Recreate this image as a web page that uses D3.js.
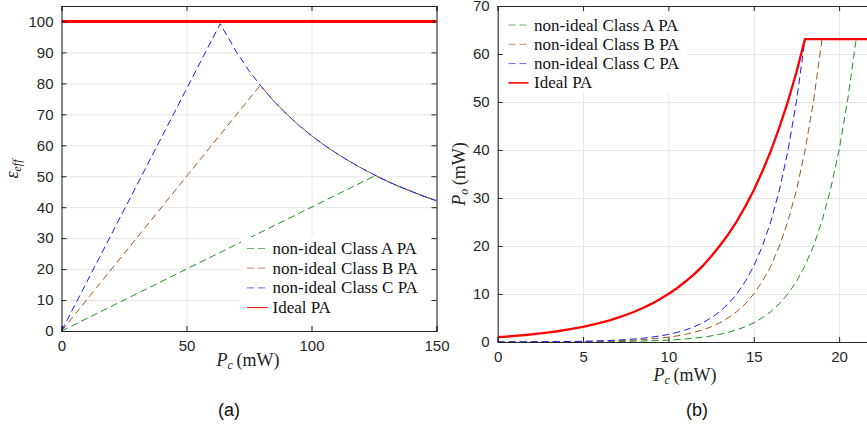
<!DOCTYPE html>
<html>
<head>
<meta charset="utf-8">
<script src="https://cdn.jsdelivr.net/npm/d3@7"></script>
<style>
  html, body { margin: 0; padding: 0; background: #fff; }
  svg { display: block; }
</style>
</head>
<body>
<svg id="chart" width="867" height="436"></svg>
<script>
// ---------------- DATA ----------------
// Panel (a): efficiency vs Pc
const seriesNames = ["non-ideal Class A PA", "non-ideal Class B PA", "non-ideal Class C PA", "Ideal PA"];
const leftXTicks = [0, 50, 100, 150];
const leftYTicks = [0, 10, 20, 30, 40, 50, 60, 70, 80, 90, 100];

const effA_Pc  = [0, 125.5, 130, 135, 140, 145, 150];
const effA_val = [0, 50.2, 48.5, 46.7, 45.1, 43.5, 42.1];

const effB_Pc  = [0, 79.5, 85, 90, 95, 100, 105, 110, 115, 120, 125, 130, 135, 140, 145, 150];
const effB_val = [0, 79.4, 74.2, 70.1, 66.4, 63.1, 60.1, 57.4, 54.9, 52.6, 50.5, 48.5, 46.7, 45.1, 43.5, 42.1];

const effC_Pc  = [0, 63.5, 65, 70, 75, 80, 85, 90, 95, 100, 105, 110, 115, 120, 125, 130, 135, 140, 145, 150];
const effC_val = [0, 99.3, 97.1, 90.1, 84.1, 78.9, 74.2, 70.1, 66.4, 63.1, 60.1, 57.4, 54.9, 52.6, 50.5, 48.5, 46.7, 45.1, 43.5, 42.1];

const effIdeal_Pc  = [0, 150];
const effIdeal_val = [100, 100];

// Panel (b): output power vs Pc
const rightXTicks = [0, 5, 10, 15, 20];
const rightYTicks = [0, 10, 20, 30, 40, 50, 60, 70];

const poPc = [0, 0.5, 1, 1.5, 2, 2.5, 3, 3.5, 4, 4.5, 5, 5.5, 6, 6.5, 7, 7.5, 8, 8.5, 9, 9.5,
              10, 10.5, 11, 11.5, 12, 12.5, 13, 13.5, 14, 14.5, 15, 15.5, 16, 16.5, 17, 17.5,
              18, 18.5, 19, 19.5, 20, 20.5, 21, 21.5, 22];
const poIdeal = [1.00, 1.12, 1.26, 1.41, 1.58, 1.78, 2.00, 2.24, 2.51, 2.82, 3.16, 3.55, 3.98, 4.47, 5.01, 5.62, 6.31, 7.08, 7.94, 8.91,
                 10.0, 11.2, 12.6, 14.1, 15.8, 17.8, 20.0, 22.4, 25.1, 28.2, 31.6, 35.5, 39.8, 44.7, 50.1, 56.2,
                 63.1, 63.1, 63.1, 63.1, 63.1, 63.1, 63.1, 63.1, 63.1];
const poC = [0.016, 0.020, 0.025, 0.032, 0.040, 0.050, 0.063, 0.079, 0.100, 0.126, 0.158, 0.199, 0.251, 0.316, 0.398, 0.501, 0.630, 0.793, 0.999, 1.26,
             1.58, 1.99, 2.51, 3.16, 3.98, 5.01, 6.30, 7.93, 9.99, 12.6, 15.8, 19.9, 25.1, 31.6, 39.8, 50.1,
             63.0, 63.1, 63.1, 63.1, 63.1, 63.1, 63.1, 63.1, 63.1];
const poB = [0.010, 0.013, 0.016, 0.020, 0.025, 0.032, 0.040, 0.050, 0.063, 0.079, 0.100, 0.126, 0.158, 0.200, 0.251, 0.316, 0.398, 0.501, 0.631, 0.794,
             1.00, 1.26, 1.58, 2.00, 2.51, 3.16, 3.98, 5.01, 6.31, 7.94, 10.0, 12.6, 15.8, 20.0, 25.1, 31.6,
             39.8, 50.1, 63.1, 63.1, 63.1, 63.1, 63.1, 63.1, 63.1];
const poA = [0.004, 0.005, 0.006, 0.008, 0.010, 0.013, 0.016, 0.020, 0.025, 0.032, 0.040, 0.050, 0.063, 0.080, 0.100, 0.126, 0.159, 0.200, 0.252, 0.318,
             0.40, 0.50, 0.63, 0.80, 1.00, 1.26, 1.59, 2.00, 2.52, 3.18, 4.00, 5.04, 6.34, 7.98, 10.0, 12.6,
             15.9, 20.0, 25.2, 31.8, 40.0, 50.4, 63.1, 63.1, 63.1];

// ---------------- STYLE ----------------
const colA = "#1f8f1f", colB = "#a8521f", colC = "#1a1aff", colIdeal = "#ff0000";
const axisCol = "#262626", gridCol = "#e6e6e6";
const tickFont = "'Liberation Sans', Arial, sans-serif";
const texFont = "'Liberation Serif', 'Times New Roman', serif";

const svg = d3.select("#chart");

function zip(xs, ys) { return xs.map((x, i) => [x, ys[i]]); }

function drawPanel(cfg) {
  const { id, x, y, xTicks, yTicks, series, legend, rightBorder } = cfg;
  const g = svg.append("g");
  const [x0, x1] = x.range();
  const [y0, y1] = y.range(); // y0 bottom, y1 top

  g.append("defs").append("clipPath").attr("id", "clip" + id)
    .append("rect").attr("x", x0).attr("y", y1).attr("width", x1 - x0).attr("height", y0 - y1);

  // grid
  g.append("g").selectAll("line.gx").data(xTicks.filter(t => t > x.domain()[0] && t < x.domain()[1]))
    .join("line").attr("x1", d => x(d) + 0.5).attr("x2", d => x(d) + 0.5)
    .attr("y1", y1).attr("y2", y0).attr("stroke", gridCol).attr("stroke-width", 1);
  g.append("g").selectAll("line.gy").data(yTicks.filter(t => t > y.domain()[0] && t < y.domain()[1]))
    .join("line").attr("y1", d => y(d) + 0.5).attr("y2", d => y(d) + 0.5)
    .attr("x1", x0).attr("x2", x1).attr("stroke", gridCol).attr("stroke-width", 1);

  // data lines
  const plot = g.append("g").attr("clip-path", `url(#clip${id})`);
  const line = d3.line().x(d => x(d[0])).y(d => y(d[1]));
  series.forEach(s => {
    plot.append("path").datum(s.data).attr("d", line)
      .attr("fill", "none").attr("stroke", s.color).attr("stroke-width", s.width)
      .attr("stroke-dasharray", s.dash || null).attr("stroke-linejoin", "round");
  });

  // legend
  const lg = g.append("g");
  lg.append("rect").attr("x", legend.x).attr("y", legend.y).attr("width", legend.w).attr("height", legend.h)
    .attr("fill", "#fff");
  legend.items.forEach((it, i) => {
    const cy = legend.firstY + i * legend.step;
    lg.append("line").attr("x1", legend.lineX1).attr("x2", legend.lineX2).attr("y1", cy).attr("y2", cy)
      .attr("stroke", it.color).attr("stroke-width", it.width).attr("stroke-dasharray", it.dash || null)
      .attr("stroke-opacity", it.dash ? 0.65 : 1);
    lg.append("text").attr("x", legend.textX).attr("y", cy + 5.5)
      .style("font-family", texFont).style("font-size", "17px").attr("fill", "#111").text(it.name);
  });

  // axes (MATLAB-like box with inward ticks)
  const xAxisB = d3.axisBottom(x).tickValues(xTicks).tickSize(-5).tickPadding(9).tickFormat(d3.format("d"));
  const yAxisL = d3.axisLeft(y).tickValues(yTicks).tickSize(-5).tickPadding(8).tickFormat(d3.format("d"));
  const xAxisT = d3.axisTop(x).tickValues(xTicks).tickSize(-5).tickFormat("");
  const gxb = g.append("g").attr("transform", `translate(0,${y0})`).call(xAxisB);
  const gyl = g.append("g").attr("transform", `translate(${x0},0)`).call(yAxisL);
  const gxt = g.append("g").attr("transform", `translate(0,${y1})`).call(xAxisT);
  const axes = [gxb, gyl, gxt];
  if (rightBorder) {
    const yAxisR = d3.axisRight(y).tickValues(yTicks).tickSize(-5).tickFormat("");
    axes.push(g.append("g").attr("transform", `translate(${x1},0)`).call(yAxisR));
  }
  axes.forEach(a => {
    a.select(".domain").attr("stroke", axisCol).attr("stroke-width", 1.1);
    a.selectAll(".tick line").attr("stroke", axisCol).attr("stroke-width", 1);
    a.selectAll("text").attr("font-family", tickFont).attr("font-size", 15).attr("fill", axisCol);
  });
  return g;
}

// ---------------- PANEL (a) ----------------
const xL = d3.scaleLinear().domain([0, 150]).range([61.5, 436.5]);
const yL = d3.scaleLinear().domain([0, 105]).range([331, 6]);

drawPanel({
  id: "L", x: xL, y: yL, xTicks: leftXTicks, yTicks: leftYTicks, rightBorder: true,
  series: [
    { data: zip(effIdeal_Pc, effIdeal_val), color: colIdeal, width: 3.2 },
    { data: zip(effA_Pc, effA_val), color: colA, width: 1, dash: "7,4" },
    { data: zip(effB_Pc, effB_val), color: colB, width: 1, dash: "7,4" },
    { data: zip(effC_Pc, effC_val), color: colC, width: 1, dash: "7,4" }
  ],
  legend: {
    x: 241, y: 237, w: 194, h: 82, firstY: 248.5, step: 19.7,
    lineX1: 247, lineX2: 268, textX: 272.5,
    items: [
      { name: seriesNames[0], color: colA, width: 1, dash: "7,4" },
      { name: seriesNames[1], color: colB, width: 1, dash: "7,4" },
      { name: seriesNames[2], color: colC, width: 1, dash: "7,4" },
      { name: seriesNames[3], color: colIdeal, width: 1 }
    ]
  }
});

// ---------------- PANEL (b) ----------------
const xR = d3.scaleLinear().domain([0, 22]).range([497.7, 497.7 + 22 * 17.07]);
const yR = d3.scaleLinear().domain([0, 70]).range([342, 6]);

drawPanel({
  id: "R", x: xR, y: yR, xTicks: rightXTicks, yTicks: rightYTicks, rightBorder: false,
  series: [
    { data: zip(poPc, poA), color: colA, width: 1, dash: "7,4" },
    { data: zip(poPc, poB), color: colB, width: 1, dash: "7,4" },
    { data: zip(poPc, poC), color: colC, width: 1, dash: "7,4" },
    { data: zip(poPc, poIdeal), color: colIdeal, width: 2.3 }
  ],
  legend: {
    x: 503, y: 13, w: 184, h: 80, firstY: 25, step: 19.3,
    lineX1: 508.5, lineX2: 528.5, textX: 534,
    items: [
      { name: seriesNames[0], color: colA, width: 1, dash: "7,4" },
      { name: seriesNames[1], color: colB, width: 1, dash: "7,4" },
      { name: seriesNames[2], color: colC, width: 1, dash: "7,4" },
      { name: seriesNames[3], color: colIdeal, width: 1.6 }
    ]
  }
});

// ---------------- AXIS LABELS ----------------
function pcLabel(cx, by) {
  const t = svg.append("text").attr("x", cx).attr("y", by).attr("text-anchor", "middle")
    .style("font-family", texFont).style("font-size", "18px").attr("fill", "#222");
  t.append("tspan").attr("font-style", "italic").text("P");
  t.append("tspan").attr("font-style", "italic").style("font-size", "12px").attr("dy", 3).text("c");
  t.append("tspan").attr("dy", -3).text("\u2009(mW)");
}
pcLabel(248, 366);
pcLabel(685, 381);

// ε_eff (rotated)
{
  const t = svg.append("text").attr("transform", "translate(18,169) rotate(-90)").attr("text-anchor", "middle")
    .style("font-family", texFont).style("font-size", "18px").attr("fill", "#222");
  t.append("tspan").attr("font-style", "italic").text("\u03b5");
  t.append("tspan").attr("font-style", "italic").style("font-size", "12px").attr("dy", 3).text("eff");
}
// P_o (mW) (rotated)
{
  const t = svg.append("text").attr("transform", "translate(465,174) rotate(-90)").attr("text-anchor", "middle")
    .style("font-family", texFont).style("font-size", "18px").attr("fill", "#222");
  t.append("tspan").attr("font-style", "italic").text("P");
  t.append("tspan").attr("font-style", "italic").style("font-size", "12px").attr("dy", 3).text("o");
  t.append("tspan").attr("dy", -3).text("\u2009(mW)");
}

// panel captions
svg.append("text").attr("x", 229).attr("y", 416).attr("text-anchor", "middle")
  .attr("font-family", tickFont).attr("font-size", 18).attr("fill", "#111").text("(a)");
svg.append("text").attr("x", 697).attr("y", 416).attr("text-anchor", "middle")
  .attr("font-family", tickFont).attr("font-size", 18).attr("fill", "#111").text("(b)");
</script>
</body>
</html>
